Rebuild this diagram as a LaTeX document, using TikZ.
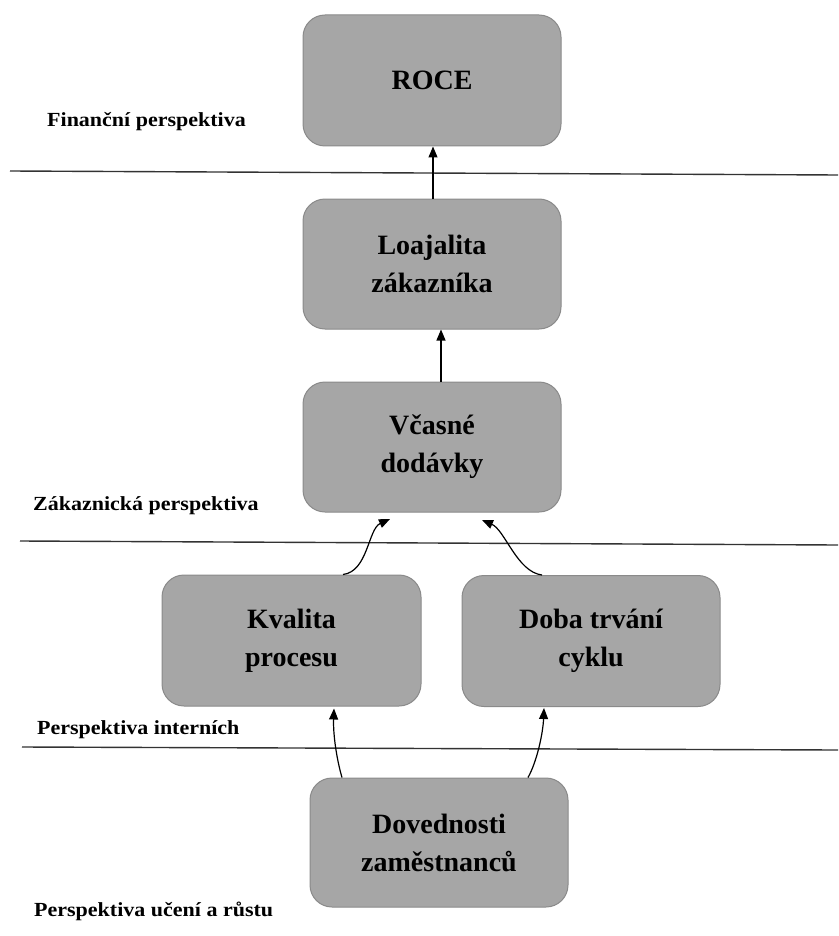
\documentclass[tikz,border=0pt]{standalone}
\usepackage{fontspec}
\setmainfont{Liberation Serif}
\newfontfamily\labelfont{Liberation Serif}[FakeStretch=1.1]
\usetikzlibrary{arrows.meta}
\definecolor{boxfill}{HTML}{A6A6A6}
\definecolor{boxline}{HTML}{8A8A8A}
\tikzset{
  box/.style={draw=boxline, line width=1pt, fill=boxfill, rounded corners=22pt,
    minimum width=258pt, minimum height=130pt, align=center, inner sep=0pt,
    font=\fontsize{28}{38}\selectfont\bfseries},
  persp/.style={anchor=base west, inner sep=0pt, font=\labelfont\fontsize{20}{24}\selectfont\bfseries},
  sepline/.style={draw=black!80, line width=1.4pt},
  arr/.style={draw=black, line width=1.2pt, -{Triangle[length=11pt,width=9pt]}}
}
\begin{document}
\begin{tikzpicture}[x=1pt,y=-1pt]
\useasboundingbox (0,0) rectangle (838,936);
% boxes
\node[box, minimum height=131pt] (roce) at (432,80.5) {ROCE};
\node[box] (loaj) at (432,264) {Loajalita\\zákazníka};
\node[box] (vcas) at (432,447) {Včasné\\dodávky};
\node[box, minimum width=259pt, minimum height=131pt] (kval) at (291.5,640.5) {Kvalita\\procesu};
\node[box, minimum height=131pt] (doba) at (591,641) {Doba trvání\\cyklu};
\node[box, minimum height=129pt] (dov) at (439,842.5) {Dovednosti\\zaměstnanců};
% separator lines
\draw[sepline] (10,171) -- (838,175);
\draw[sepline] (20,541) -- (838,545);
\draw[sepline] (22,747) -- (838,750);
% perspective labels
\node[persp] (lfin) at (47,127) {Finanční perspektiva};
\node[persp] (lzak) at (33,510) {Zákaznická perspektiva};
\node[persp] (lint) at (37,734) {Perspektiva interních};
\node[persp] (luc) at (34,916) {Perspektiva učení a růstu};
% free arrow ends
\coordinate (t1) at (390,519);
\coordinate (t2) at (482,520);
% connectors
\draw[arr] ([xshift=1pt]loaj.north) -- ([xshift=1pt]roce.south);
\draw[arr] ([xshift=9pt]vcas.north) -- ([xshift=9pt]loaj.south);
\draw[arr] ([xshift=51.5pt]kval.north) .. controls +(25,-3) and +(-22,10) .. (t1);
\draw[arr] ([xshift=-49pt]doba.north) .. controls +(-25,-3) and +(23,10) .. (t2);
\draw[arr] ([xshift=-97pt]dov.north) .. controls +(-5,-17) and +(-1,27) .. ([xshift=42.5pt,yshift=-2pt]kval.south);
\draw[arr] ([xshift=89pt]dov.north) .. controls +(9,-16) and +(-1,25) .. ([xshift=-47pt,yshift=-1pt]doba.south);
\end{tikzpicture}
\end{document}
